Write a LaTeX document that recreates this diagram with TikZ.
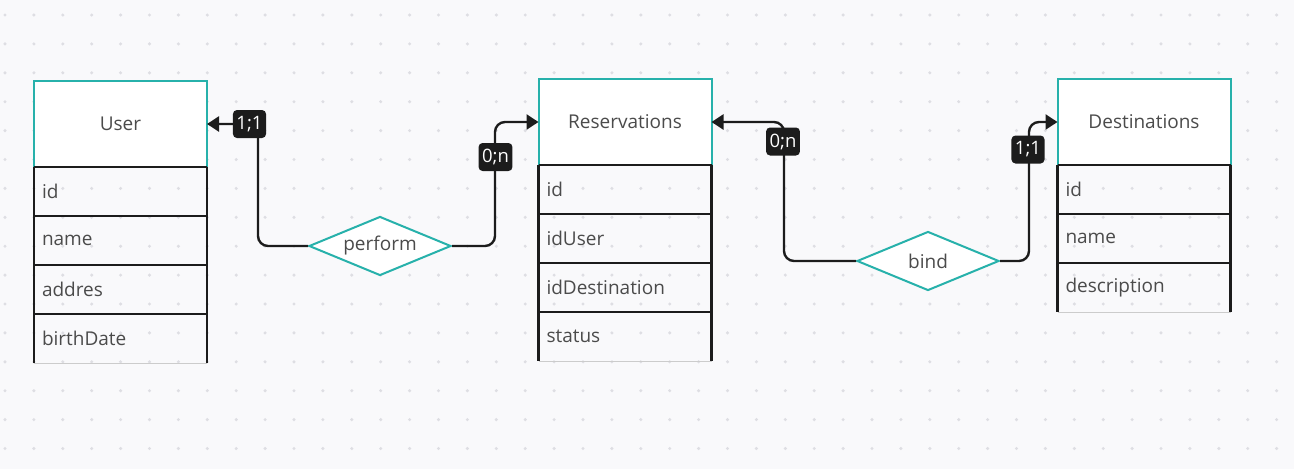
\documentclass[tikz,border=0pt]{standalone}
\usepackage{fontspec}
\setmainfont{Open Sans}
\usetikzlibrary{positioning,shapes.geometric,arrows.meta}
\definecolor{paper}{HTML}{F9F9FB}
\definecolor{dotc}{HTML}{DEDEE3}
\definecolor{teal2}{HTML}{27B1AB}
\definecolor{ink}{HTML}{1C1C1C}
\definecolor{txt}{HTML}{4B4B4B}
\tikzset{
  entity/.style={rectangle,draw=teal2,line width=2pt,fill=white,minimum width=173,minimum height=86,
    outer sep=0pt,inner sep=0pt,text=txt,font=\fontsize{19}{23}\selectfont},
  attr/.style={rectangle,minimum width=173,minimum height=49,outer sep=0pt,inner sep=0pt,
    text width=157,align=left,text=txt,font=\fontsize{19}{23}\selectfont},
  relation/.style={diamond,aspect=2.4,draw=teal2,line width=2pt,fill=white,minimum width=142,
    minimum height=59,inner sep=0pt,text=txt,font=\fontsize{19}{23}\selectfont},
  card/.style={rectangle,rounded corners=4pt,fill=ink,text=white,minimum height=28,inner xsep=3.5pt,
    inner ysep=0pt,font=\fontsize{18.5}{21}\selectfont},
  link/.style={draw=ink,line width=2.4pt,rounded corners=10pt,-{Triangle[length=12pt,width=15pt]}},
  rule/.style={draw=ink,line width=2.5pt},
  foot/.style={draw=black!20,line width=1pt}
}
\begin{document}
\begin{tikzpicture}[x=1pt,y=-1pt]
% Background with dot grid
\fill[paper] (0,0) rectangle (1294,469);
\useasboundingbox (0,0) rectangle (1294,469);
\foreach \i in {0,...,44}
  \foreach \j in {0,...,15}
    \fill[dotc] (5+28.9*\i,15+28.9*\j) circle (1.7);
% Entity: User
\node[entity] (user) at (120.5,124) {User};
\node[attr,below=0pt of user] (uid) {id};
\node[attr,below=0pt of uid] (uname) {name};
\node[attr,below=0pt of uname] (uaddr) {addres};
\node[attr,below=0pt of uaddr] (ubirth) {birthDate};
% Entity: Reservations
\node[entity] (res) at (625,122) {Reservations};
\node[attr,below=0pt of res] (rid) {id};
\node[attr,below=0pt of rid] (ruser) {idUser};
\node[attr,below=0pt of ruser] (rdest) {idDestination};
\node[attr,below=0pt of rdest] (rstat) {status};
% Entity: Destinations
\node[entity] (dest) at (1144,122) {Destinations};
\node[attr,below=0pt of dest] (did) {id};
\node[attr,below=0pt of did] (dname) {name};
\node[attr,below=0pt of dname] (ddesc) {description};
% Table rules
\foreach \top/\last in {uid/ubirth,rid/rstat,did/ddesc} {
  \draw[rule] (\top.north west) -- (\last.south west);
  \draw[rule] (\top.north east) -- (\last.south east);
  \draw[foot] (\last.south west) -- (\last.south east);
}
\foreach \r in {user,uid,uname,uaddr,res,rid,ruser,rdest,dest,did,dname}
  \draw[rule] (\r.south west) -- (\r.south east);
% Relations
\node[relation] (perform) at (380,246) {perform};
\node[relation] (bind) at (928,261) {bind};
% Connectors
\coordinate (k1) at (258,124);
\coordinate (k2) at (495,122);
\coordinate (k3) at (784,122);
\coordinate (k4) at (1029,122);
\draw[link] (perform.west) -| (k1) -- (user.east);
\draw[link] (perform.east) -| (k2) -- (res.west);
\draw[link] (bind.west) -| (k3) -- (res.east);
\draw[link] (bind.east) -| (k4) -- (dest.west);
% Cardinalities
\node[card] (c1) at (249.5,124) {1;1};
\node[card] (c2) at (495.5,157) {0;n};
\node[card] (c3) at (783,141.5) {0;n};
\node[card] (c4) at (1028,149.5) {1;1};
\end{tikzpicture}
\end{document}
